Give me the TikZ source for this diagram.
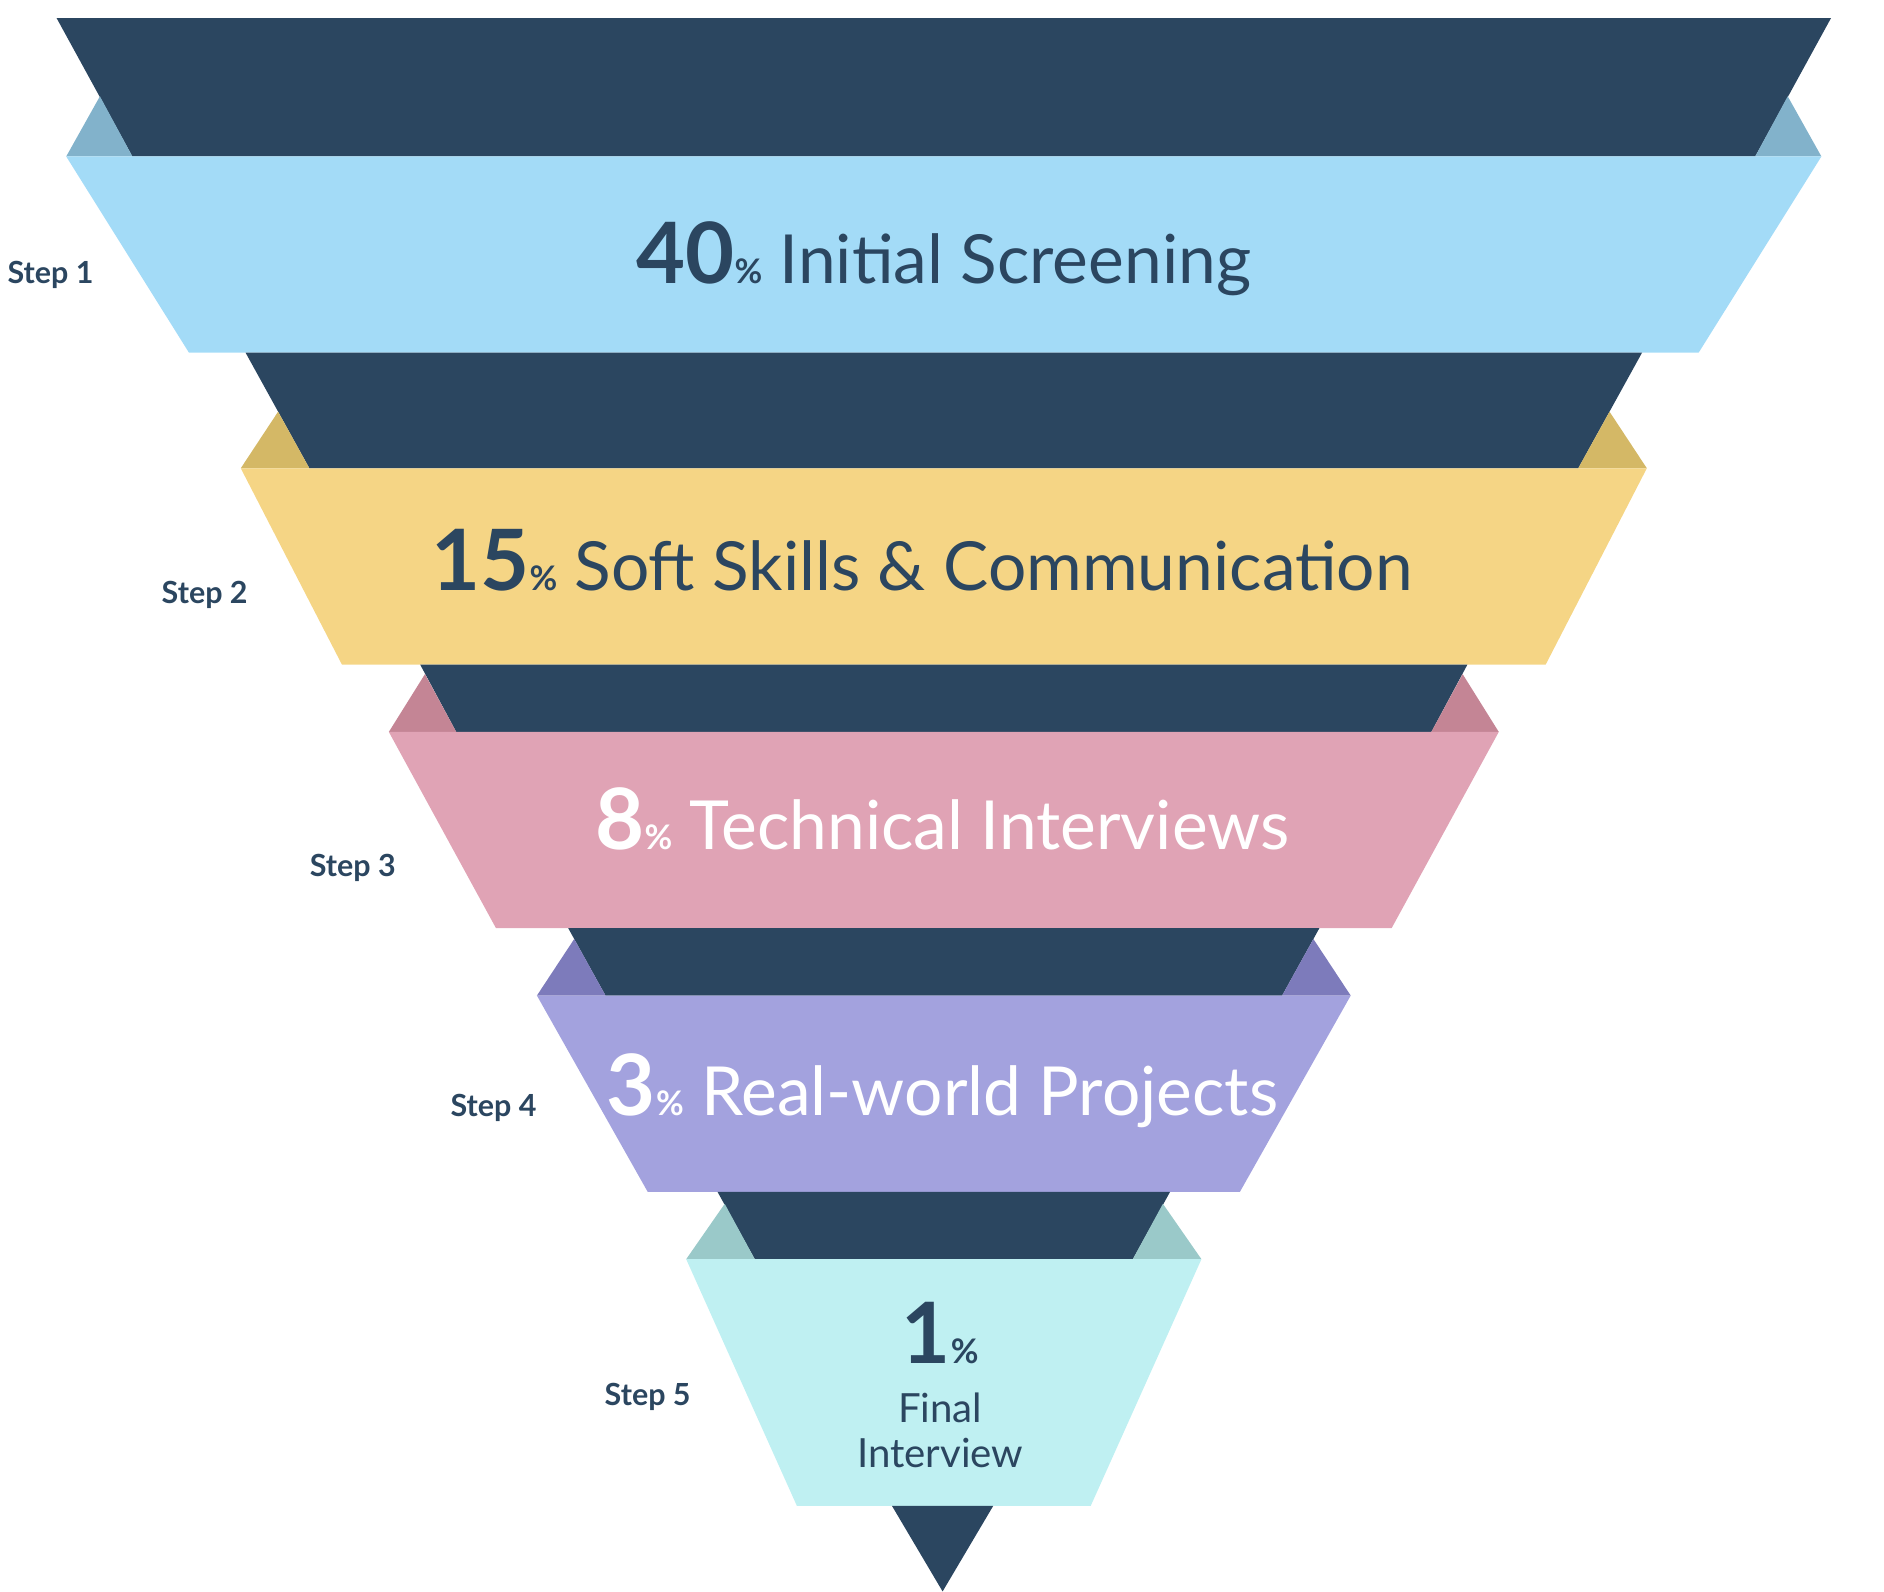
\documentclass[tikz,border=0pt]{standalone}
\usepackage{fontspec}
\setmainfont{Lato}
\usetikzlibrary{positioning}
\definecolor{funneldark}{HTML}{2B4660}
\definecolor{bandA}{HTML}{A3DBF7}\definecolor{sideA}{HTML}{82B2CB}
\definecolor{bandB}{HTML}{F5D585}\definecolor{sideB}{HTML}{D4B866}
\definecolor{bandC}{HTML}{E0A3B5}\definecolor{sideC}{HTML}{C48595}
\definecolor{bandD}{HTML}{A3A2DE}\definecolor{sideD}{HTML}{7D7BBB}
\definecolor{bandE}{HTML}{BFF0F2}\definecolor{sideE}{HTML}{9AC9C9}
\tikzset{
  steplabel/.style={font=\fontsize{7.2}{8}\selectfont\bfseries, text=funneldark},
  bandlabel/.style={font=\fontsize{16}{18}\selectfont, text=funneldark},
}
\newcommand{\bignum}[1]{{\fontsize{20}{22}\selectfont\bfseries #1}}
\newcommand{\pct}{{\fontsize{8}{9}\selectfont\bfseries\%}}
\begin{document}
\begin{tikzpicture}[x=0.1mm, y=-0.1mm]
\useasboundingbox (0,0) rectangle (1565,1322);
% dark bands, side wedges, coloured bands
% darktop-left, darkbottom-left, apex-x, apex-y, band-top-y, band-bottom-y, bandtop-left, bandbottom-left, dark-top-y, colour
\foreach \dtl/\dbl/\ax/\ay/\bt/\bb/\btl/\bbl/\dt/\c in {
  47/110/83/80/130/293/55/157/15/A,
  204/257/231/342/389/552/200/284/293/B,
  349/379/353/560/608/771/323/412/552/C,
  472/503/477/780/827/990/446/538/771/D,
  596/627/602/1000/1046/1251/570/662/990/E}{
  \fill[funneldark] (\dtl,\dt) -- ({1568-\dtl},\dt) -- ({1568-\dbl},\bt) -- (\dbl,\bt) -- cycle;
  \fill[side\c] (\ax,\ay) -- (\dbl,\bt) -- (\btl,\bt) -- cycle;
  \fill[side\c] ({1568-\ax},\ay) -- ({1568-\dbl},\bt) -- ({1568-\btl},\bt) -- cycle;
  \fill[band\c] (\btl,\bt) -- ({1568-\btl},\bt) -- ({1568-\bbl},\bb) -- (\bbl,\bb) -- cycle;
}
\fill[funneldark] (741,1251) -- (825,1251) -- (783,1322) -- cycle;

\node (screening) [bandlabel] at (784,215) {\bignum{40}\pct\ Initial Screening};
\node (softskills) [bandlabel] at (766,465) {\bignum{15}\pct\ Soft Skills \& Communication};
\node (technical) [bandlabel, text=white] at (783,680) {\bignum{8}\pct\ Technical Interviews};
\node (projects) [bandlabel, text=white] at (783,906) {\bignum{3}\pct\ Real-world Projects};
\node (finalpct) [bandlabel] at (781,1107) {\bignum{1}\pct};
\node (final) [bandlabel, font=\fontsize{9.5}{10.5}\selectfont, align=center, below=0pt of finalpct] {Final\\Interview};

\node (step1) [steplabel] at (42,228) {Step 1};
\node (step2) [steplabel] at (170,494) {Step 2};
\node (step3) [steplabel] at (293,721) {Step 3};
\node (step4) [steplabel] at (410,920) {Step 4};
\node (step5) [steplabel] at (538,1160) {Step 5};
\end{tikzpicture}
\end{document}
